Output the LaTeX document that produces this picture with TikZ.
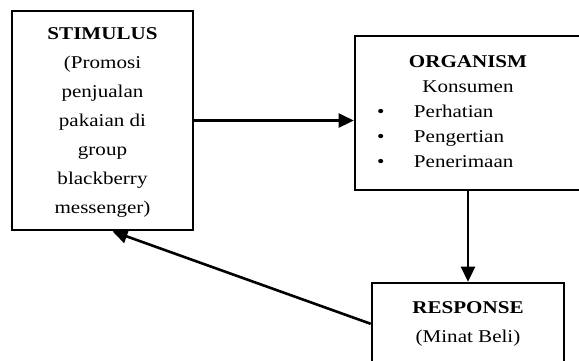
\documentclass[tikz,border=0pt]{standalone}
\usepackage{fontspec}
\setmainfont{Liberation Serif}[FakeStretch=1.17]
\usetikzlibrary{positioning,arrows.meta}

\tikzset{
  box/.style={draw, line width=2.6pt, align=center, inner sep=0pt,
    font=\fontsize{18}{25}\selectfont},
  link/.style={->, line width=2.6pt},
}
\newcommand{\orgitem}[1]{\makebox[182pt][l]{\makebox[37pt][l]{\textbullet}#1}}

\begin{document}
\begin{tikzpicture}[x=1pt, y=-1pt, >={Triangle[length=15pt,width=14pt]}]
      \useasboundingbox (0,0) rectangle (579,360);
      \clip (0,0) rectangle (579,360);
      \node[box, minimum width=181pt, minimum height=219pt, text depth=0pt,
            font=\fontsize{18}{29}\selectfont] (stim) at (102.5,120.5)
            {\textbf{STIMULUS}\\(Promosi\\penjualan\\pakaian di\\group\\blackberry\\messenger)};
      \node[box, minimum width=226pt, minimum height=154pt, text depth=3.6pt] (org) at (468,113)
            {\textbf{ORGANISM}\\Konsumen\\\orgitem{Perhatian}\\\orgitem{Pengertian}\\\orgitem{Penerimaan}};
      \node[box, minimum width=192pt, minimum height=81.6pt,
            font=\fontsize{18}{29}\selectfont] (resp) at (468,323.8)
            {\textbf{RESPONSE}\\(Minat Beli)};
      \coordinate (back) at ([xshift=10pt]stim.south);
      \draw[link] (stim.east) -- (org.west |- stim.east);
      \draw[link] (org.south) -- (resp.north);
      \draw[link] (resp.west) -- (back);
\end{tikzpicture}
\end{document}
